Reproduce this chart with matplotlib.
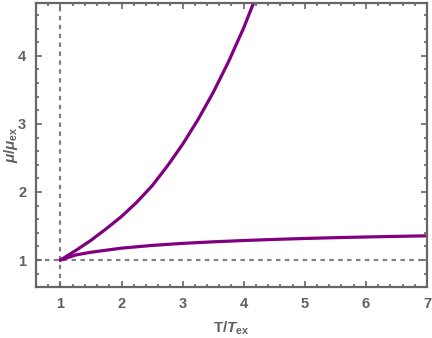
import numpy as np
import matplotlib
matplotlib.use("Agg")
from matplotlib import pyplot as plt
from matplotlib.ticker import MultipleLocator

# upper branch
t_up = [1.0, 1.25, 1.5, 1.75, 2.0, 2.25, 2.5, 2.75, 3.0, 3.25, 3.5, 3.75, 4.0, 4.15]
mu_up = [1.0, 1.14, 1.29, 1.46, 1.64, 1.85, 2.09, 2.38, 2.7, 3.06, 3.46, 3.91, 4.41, 4.75]

# lower branch
t_low = [1.0, 1.25, 1.5, 2.0, 2.5, 3.0, 3.5, 4.0, 4.5, 5.0, 5.5, 6.0, 6.5, 7.0]
mu_low = [1.0, 1.075, 1.115, 1.175, 1.215, 1.245, 1.268, 1.287, 1.303, 1.317, 1.329, 1.339, 1.348, 1.356]

xticks = [1, 2, 3, 4, 5, 6, 7]
yticks = [1, 2, 3, 4]

purple = "#800080"
grey = "#666666"
plt.rcParams['font.family'] = ['Liberation Sans', 'DejaVu Sans']
plt.rcParams['mathtext.fontset'] = 'custom'
plt.rcParams['mathtext.rm'] = 'Liberation Sans:bold'
plt.rcParams['mathtext.it'] = 'Liberation Sans:bold:italic'
plt.rcParams['mathtext.bf'] = 'Liberation Sans:bold'

fig = plt.figure(figsize=(4.32, 3.38), dpi=100)
ax = fig.add_axes([0.0833, 0.150, 0.905, 0.842])

ax.axvline(1, color="#808080", lw=1.6, dashes=(2, 2), zorder=1)
ax.axhline(1, color="#808080", lw=1.6, dashes=(2, 2), zorder=1)
ax.plot(t_up, mu_up, color=purple, lw=2.3, zorder=2)
ax.plot(t_low, mu_low, color=purple, lw=2.3, zorder=2)

ax.set_xlim(0.6, 7.0)
ax.set_ylim(0.6, 4.78)
ax.set_xticks(xticks)
ax.set_yticks(yticks)
ax.xaxis.set_minor_locator(MultipleLocator(0.2))
ax.yaxis.set_minor_locator(MultipleLocator(0.2))

for s in ax.spines.values():
    s.set_color(grey)
    s.set_linewidth(1.6)
ax.tick_params(which="both", direction="in", top=True, right=True, color=grey, width=1.2)
ax.tick_params(which="major", length=4, labelsize=10.5, labelcolor="#606060", pad=7)
ax.tick_params(which="minor", length=2)
for lab in ax.get_xticklabels() + ax.get_yticklabels():
    lab.set_fontweight("bold")

ax.set_xlabel(r"T/$\mathit{T}_{\mathrm{ex}}$", fontsize=11, color="#606060",
              fontweight="bold")
ax.set_ylabel(r"$\mathit{\mu}/\mathit{\mu}_{\mathrm{ex}}$", fontsize=11,
              color="#606060")
ax.xaxis.set_label_coords(0.5, -0.113)
ax.yaxis.set_label_coords(-0.041, 0.5)

fig.savefig("out.png", dpi=100)
